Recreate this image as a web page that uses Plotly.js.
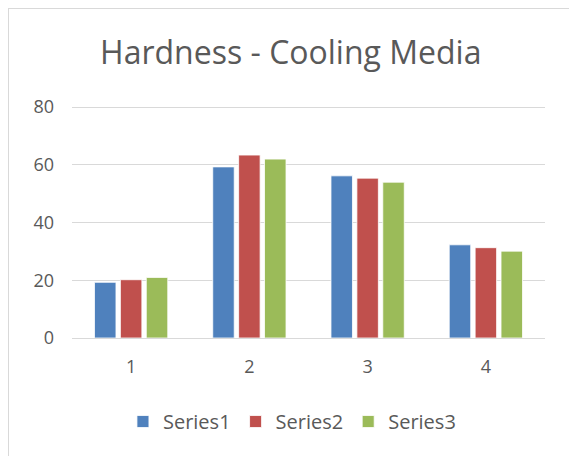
<!DOCTYPE html>
<html>
<head>
<meta charset="utf-8">
<script src="https://cdn.plot.ly/plotly-3.0.1.min.js"></script>
<style>
  html, body { margin: 0; padding: 0; background: #ffffff; overflow: hidden; }
  #frame { position: absolute; left: 8px; top: 8px; width: 600px; height: 500px;
           border-left: 1.5px solid #d9d9d9; border-top: 1.5px solid #d9d9d9; }
  #chart { position: absolute; left: 0; top: 0; width: 569px; height: 456px; }
</style>
</head>
<body>
<div id="frame"></div>
<div id="chart"></div>
<script>
const categories = ["1", "2", "3", "4"];
const seriesNames = ["Series1", "Series2", "Series3"];
const series1 = [19.3, 59.3, 56.2, 32.3];
const series2 = [20.2, 63.4, 55.4, 31.3];
const series3 = [21.0, 62.0, 54.0, 30.1];
const colors = ["#4f81bd", "#c0504d", "#9bbb59"];

const allSeries = [series1, series2, series3];
const traces = allSeries.map((vals, i) => ({
  type: "bar",
  x: categories,
  y: vals,
  name: seriesNames[i],
  marker: { color: colors[i], line: { color: "#ffffff", width: 0.8 } },
  hoverinfo: "none"
}));

const fontFamily = "'Open Sans', sans-serif";
const layout = {
  width: 569,
  height: 456,
  paper_bgcolor: "rgba(0,0,0,0)",
  plot_bgcolor: "rgba(0,0,0,0)",
  margin: { l: 72, r: 24, t: 106, b: 118 },
  title: {
    text: "Hardness - Cooling Media",
    font: { family: fontFamily, size: 32, color: "#595959" },
    x: 0.511, xanchor: "center", y: 0.885, yanchor: "middle"
  },
  font: { family: fontFamily, size: 18, color: "#595959" },
  barmode: "group",
  bargap: 0.343,
  bargroupgap: 0.17,
  xaxis: {
    type: "category",
    showgrid: false,
    showline: false,
    ticks: "",
    ticklen: 0,
    ticklabelstandoff: 16,
    tickfont: { family: fontFamily, size: 18, color: "#595959" }
  },
  yaxis: {
    range: [0, 80.4],
    tickvals: [0, 20, 40, 60, 80],
    showgrid: true,
    gridcolor: "#d9d9d9",
    gridwidth: 1,
    zeroline: true,
    zerolinecolor: "#d9d9d9",
    zerolinewidth: 1,
    showline: false,
    ticks: "",
    ticklabelstandoff: 17,
    tickfont: { family: fontFamily, size: 18, color: "#595959" }
  },
  showlegend: true,
  legend: {
    orientation: "h",
    x: 0.465, xanchor: "center",
    y: -0.36, yanchor: "middle",
    font: { family: fontFamily, size: 20, color: "#595959" },
    itemwidth: 30,
    traceorder: "normal"
  }
};

Plotly.newPlot("chart", traces, layout, { displayModeBar: false, staticPlot: true });
</script>
</body>
</html>
